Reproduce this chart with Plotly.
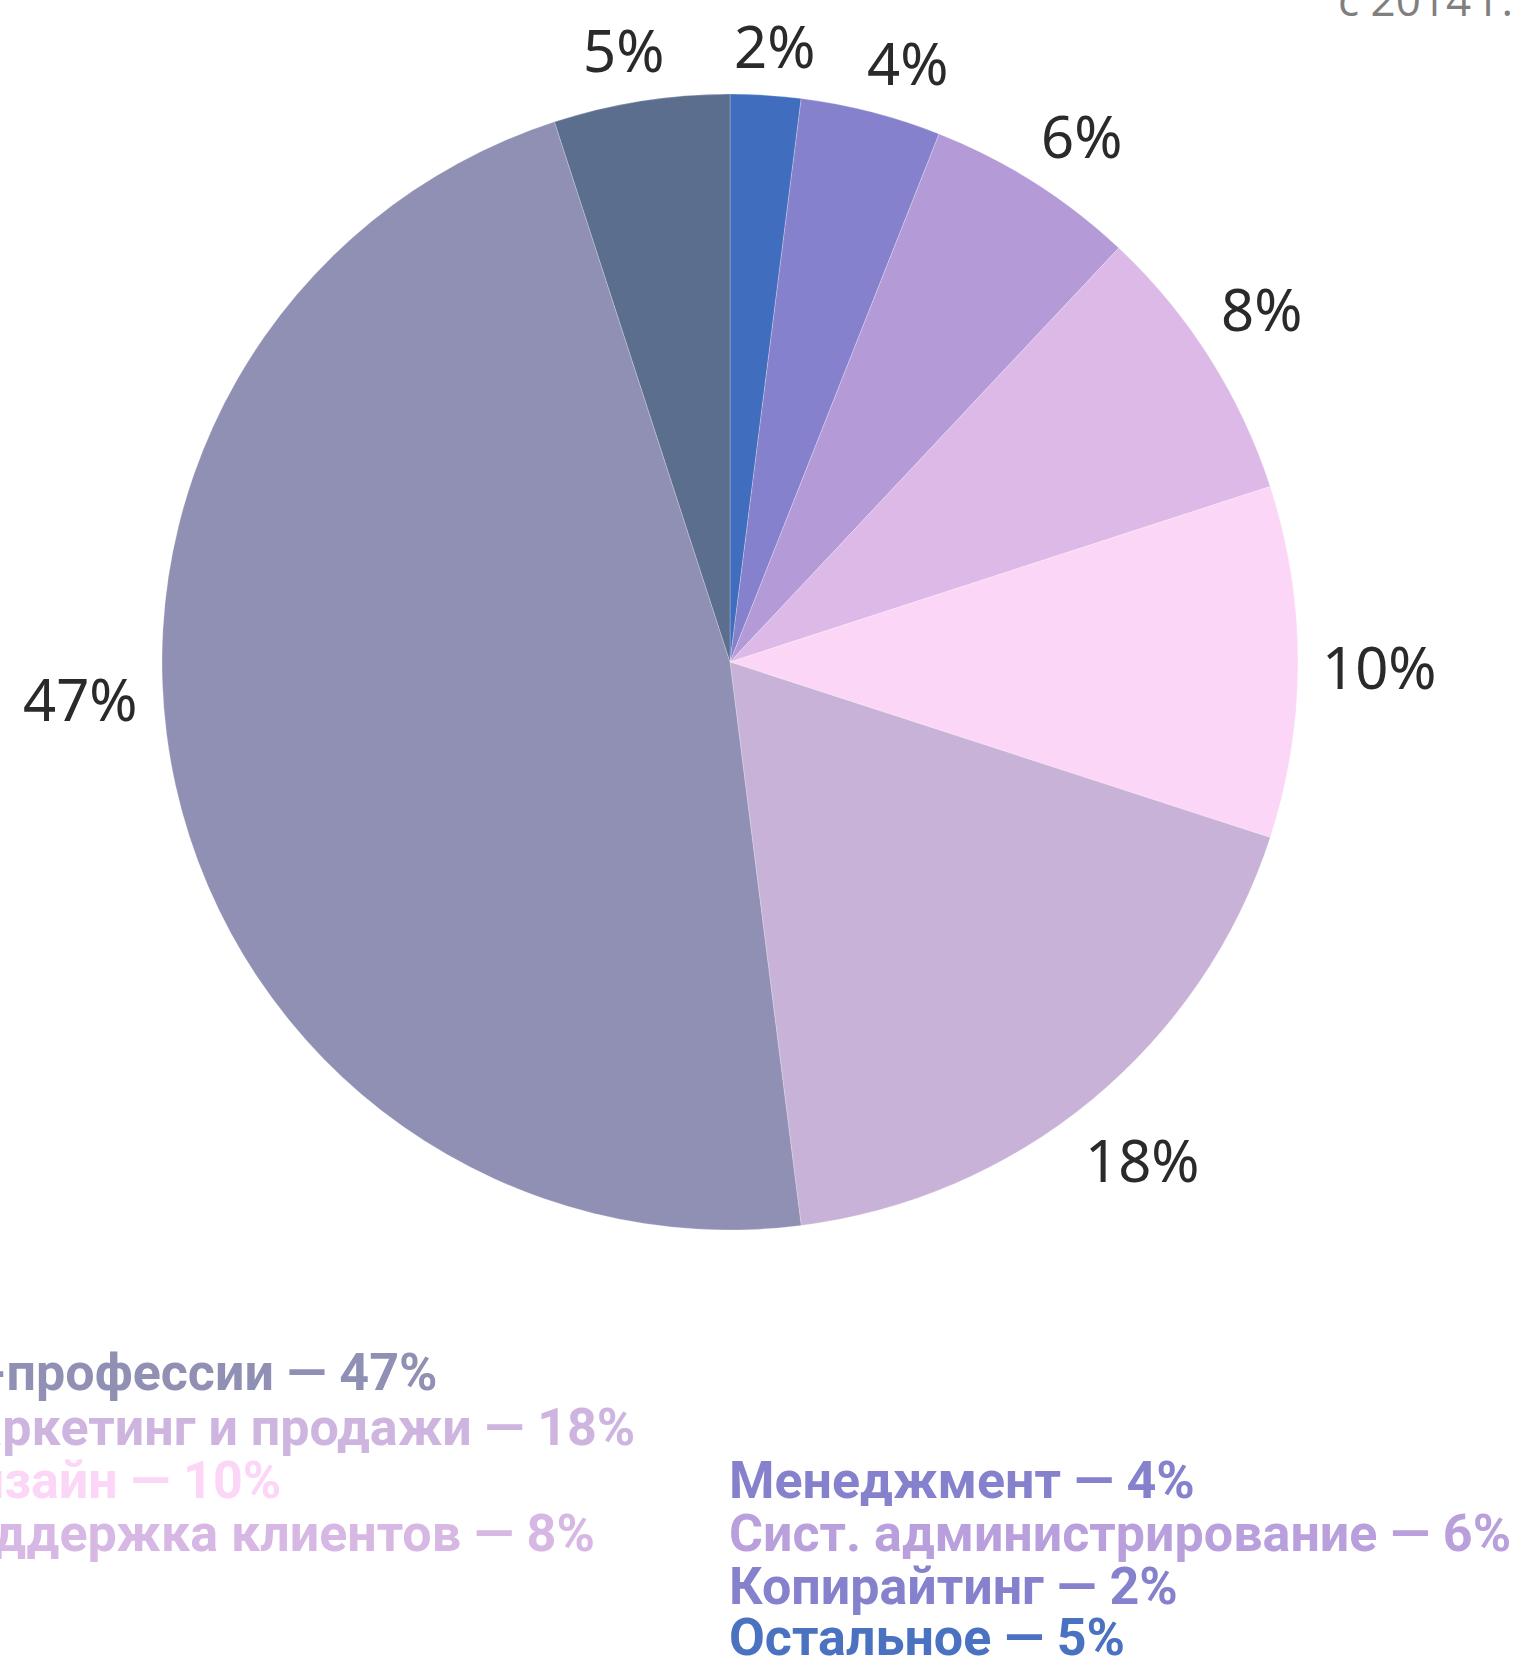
import math
import plotly.graph_objects as go

# Data
categories = ["Копирайтинг", "Менеджмент", "Сист. администрирование", "Поддержка клиентов",
              "Дизайн", "Маркетинг и продажи", "IT-профессии", "Остальное"]
values = [2, 4, 6, 8, 10, 18, 47, 5]
slice_colors = ["#416DBE", "#8581CC", "#B49BD8", "#DCB9E6", "#FCD6F6", "#C8B2D7", "#8F90B3", "#5B6E8E"]

left_legend = ["IT-профессии — 47%", "Маркетинг и продажи — 18%", "Дизайн — 10%", "Поддержка клиентов — 8%"]
left_colors = ["#8F90B3", "#CDB5DF", "#FCD6F6", "#D7B7E3"]
right_legend = ["Менеджмент — 4%", "Сист. администрирование — 6%", "Копирайтинг — 2%", "Остальное — 5%"]
right_colors = ["#8581CC", "#B9A0DC", "#8581CC", "#4A72C0"]
subtitle = "с 2014 г."

# Layout constants (pixels)
W, H = 1518, 1658
CX, CY, R = 730, 662, 568
LABEL_GAP = 25
label_angle_nudge = [0.5, 2.1, 1.3, -1.2, 0.4, -0.1, 9.4, -0.9]   # degrees, label placement only


def px(x):
    return x / W


def py(y):
    return 1 - y / H


fig = go.Figure(go.Pie(
    labels=categories,
    values=values,
    sort=False,
    direction="clockwise",
    rotation=0,
    marker=dict(colors=slice_colors, line=dict(color="rgba(255,255,255,0.4)", width=0.6)),
    textinfo="none",
    showlegend=False,
    hoverinfo="label+value",
    domain=dict(x=[px(CX - R), px(CX + R)], y=[py(CY + R), py(CY - R)]),
))

annotations = []

# percentage labels around the pie, placed from the slice mid-angles
total = sum(values)
cum = 0
for v, nudge in zip(values, label_angle_nudge):
    mid = (cum + v / 2) / total * 360 + nudge
    cum += v
    th = math.radians(mid)
    txt = f"{v}%"
    hw = 39 if len(txt) == 2 else 56
    hh = 22.5
    d = R + LABEL_GAP + hh * abs(math.cos(th)) + hw * abs(math.sin(th))
    x = CX + d * math.sin(th)
    y = CY - d * math.cos(th)
    annotations.append(dict(text=txt, x=px(x), y=py(y), xref="paper", yref="paper",
                            xanchor="center", yanchor="middle", showarrow=False,
                            font=dict(family="Noto Sans", size=58, color="#2A2A2A")))

left_end = [439, 637, 283, 597]
left_y = [1372, 1427, 1480, 1533]
for t, c, xe, yc in zip(left_legend, left_colors, left_end, left_y):
    annotations.append(dict(text=t, x=px(xe), y=py(yc), xref="paper", yref="paper",
                            xanchor="right", yanchor="middle", showarrow=False,
                            font=dict(family="Roboto", size=52, color=c, weight=700)))
right_y = [1480, 1533, 1586, 1637]
for t, c, yc in zip(right_legend, right_colors, right_y):
    annotations.append(dict(text=t, x=px(727), y=py(yc), xref="paper", yref="paper",
                            xanchor="left", yanchor="middle", showarrow=False,
                            font=dict(family="Roboto", size=52, color=c, weight=700)))

fig.update_layout(
    width=W, height=H,
    margin=dict(l=0, r=0, t=0, b=0),
    paper_bgcolor="white", plot_bgcolor="white",
    annotations=annotations,
    title=dict(text=subtitle, x=px(1338), xanchor="left", xref="container",
               y=py(16), yanchor="bottom", yref="container",
               font=dict(family="Open Sans", size=44, color="#7F7F7F")),
)

fig.write_html("out.html")
